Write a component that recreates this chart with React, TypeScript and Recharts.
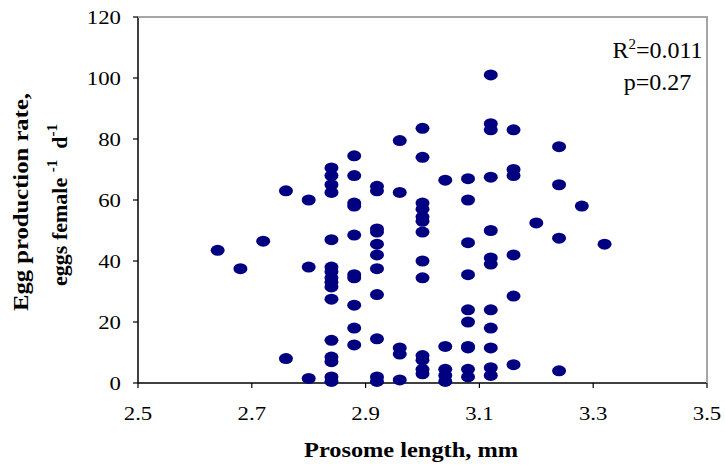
import { Label, Scatter, ScatterChart, XAxis, YAxis } from 'recharts';

const SERIF = '"Liberation Serif", "Times New Roman", serif';
const NAVY = '#000080';
const FRAME = '#a6a6a6';

// prosome length columns (mm) and egg production rates
const LENGTHS = [2.64, 2.68, 2.72, 2.76, 2.8, 2.84, 2.88, 2.92, 2.96, 3.0, 3.04, 3.08, 3.12, 3.16, 3.2, 3.24, 3.28, 3.32];
const EPR_BY_LENGTH = [
  [43.5],
  [37.5],
  [46.5],
  [63, 8],
  [60, 38, 1.5],
  [70.5, 68, 65, 62.5, 47, 38, 36.5, 34.5, 33, 31.5, 27.5, 14, 8.5, 7, 2, 0.5],
  [74.5, 68, 59, 58, 48.5, 35.5, 34.5, 25.5, 18, 12.5],
  [64.5, 63, 50.5, 49.5, 45.5, 42, 37.5, 29, 14.5, 2, 0.5],
  [79.5, 62.5, 11.5, 9.5, 1],
  [83.5, 74, 59, 57, 54.5, 53, 49.5, 40, 34.5, 9, 7.5, 4.5, 3],
  [66.5, 12, 4.5, 2.5, 0.5],
  [67, 60, 46, 35.5, 24, 20, 12, 11.5, 4.5, 2],
  [101, 85, 83, 67.5, 50, 41, 39, 24, 18, 11.5, 5, 2.5],
  [83, 70, 68, 42, 28.5, 6],
  [52.5],
  [77.5, 65, 47.5, 4],
  [58],
  [45.5],
];

const X_TICKS = [2.5, 2.7, 2.9, 3.1, 3.3, 3.5];
const Y_TICKS = [0, 20, 40, 60, 80, 100, 120];

const points = LENGTHS.flatMap((len, i) => EPR_BY_LENGTH[i].map((epr) => ({ len, epr })));

function Dot(props: any) {
  const { cx, cy } = props;
  if (cx == null || cy == null) return null;
  return <ellipse cx={cx} cy={cy} rx={7} ry={5.5} fill={NAVY} />;
}

function XTick({ x, y, payload }: any) {
  return (
    <g transform={`translate(${x},${y})`}>
      <text transform="scale(1.2,1)" textAnchor="middle" dy="0.75em" style={{ fontFamily: SERIF, fontSize: 19 }} fill="#000">
        {Number(payload.value).toFixed(1)}
      </text>
    </g>
  );
}

function YTick({ x, y, payload }: any) {
  return (
    <g transform={`translate(${x},${y})`}>
      <text transform="scale(1.2,1)" textAnchor="end" dy="0.35em" style={{ fontFamily: SERIF, fontSize: 19 }} fill="#000">
        {payload.value}
      </text>
    </g>
  );
}

// axis titles; the frame lines ride along in the y label group
function YLabel({ viewBox }: any) {
  const vb = viewBox || {};
  const top = vb.y ?? 17;
  const left = vb.x != null && vb.width != null ? vb.x + vb.width : 138;
  const bottom = top + (vb.height ?? 366);
  const right = 707;
  return (
    <g>
      <path d={`M${left},${top}H${right}V${bottom}`} fill="none" stroke={FRAME} strokeWidth={2} />
      <g style={{ fontFamily: SERIF, fontWeight: 'bold', fontSize: 22 }} fill="#000">
        <text transform="translate(28,202) rotate(-90)" textAnchor="middle" textLength={218} lengthAdjust="spacingAndGlyphs">
          Egg production rate,
        </text>
        <text transform="translate(67,205) rotate(-90)" textAnchor="middle">
          eggs female{'\u00a0'}
          <tspan dy={-10} style={{ fontSize: 15 }}>-1</tspan>
          <tspan dy={10}>{'\u00a0\u00a0'}d</tspan>
          <tspan dy={-10} style={{ fontSize: 15 }}>-1</tspan>
        </text>
      </g>
    </g>
  );
}

function XLabel() {
  return (
    <text
      x={411}
      y={457}
      textAnchor="middle"
      textLength={214}
      lengthAdjust="spacingAndGlyphs"
      style={{ fontFamily: SERIF, fontWeight: 'bold', fontSize: 22 }}
      fill="#000"
    >
      Prosome length, mm
    </text>
  );
}

export default function App() {
  return (
    <div style={{ position: 'absolute', left: 0, top: 0, width: 725, height: 465, background: '#fff' }}>
      <ScatterChart width={725} height={465} margin={{ top: 17, right: 18, bottom: 0, left: 0 }}>
        <XAxis
          type="number"
          dataKey="len"
          domain={[2.5, 3.5]}
          ticks={X_TICKS}
          tick={<XTick />}
          tickSize={5}
          tickMargin={18}
          axisLine={{ stroke: '#000', strokeWidth: 1.5 }}
          tickLine={{ stroke: '#000', strokeWidth: 1.2 }}
          height={82}
        >
          <Label content={<XLabel />} />
        </XAxis>
        <YAxis
          type="number"
          dataKey="epr"
          domain={[0, 120]}
          ticks={Y_TICKS}
          tick={<YTick />}
          tickSize={5}
          tickMargin={12}
          axisLine={{ stroke: '#000', strokeWidth: 1.5 }}
          tickLine={{ stroke: '#000', strokeWidth: 1.2 }}
          width={138}
        >
          <Label content={<YLabel />} />
        </YAxis>
        <Scatter data={points} shape={<Dot />} isAnimationActive={false} />
      </ScatterChart>
      <div
        style={{
          position: 'absolute',
          left: 600,
          top: 34,
          width: 115,
          textAlign: 'center',
          fontFamily: SERIF,
          fontSize: 24,
          lineHeight: '32px',
          color: '#000',
        }}
      >
        <div>
          R<sup style={{ fontSize: 15, lineHeight: 0 }}>2</sup>=0.011
        </div>
        <div>p=0.27</div>
      </div>
    </div>
  );
}
